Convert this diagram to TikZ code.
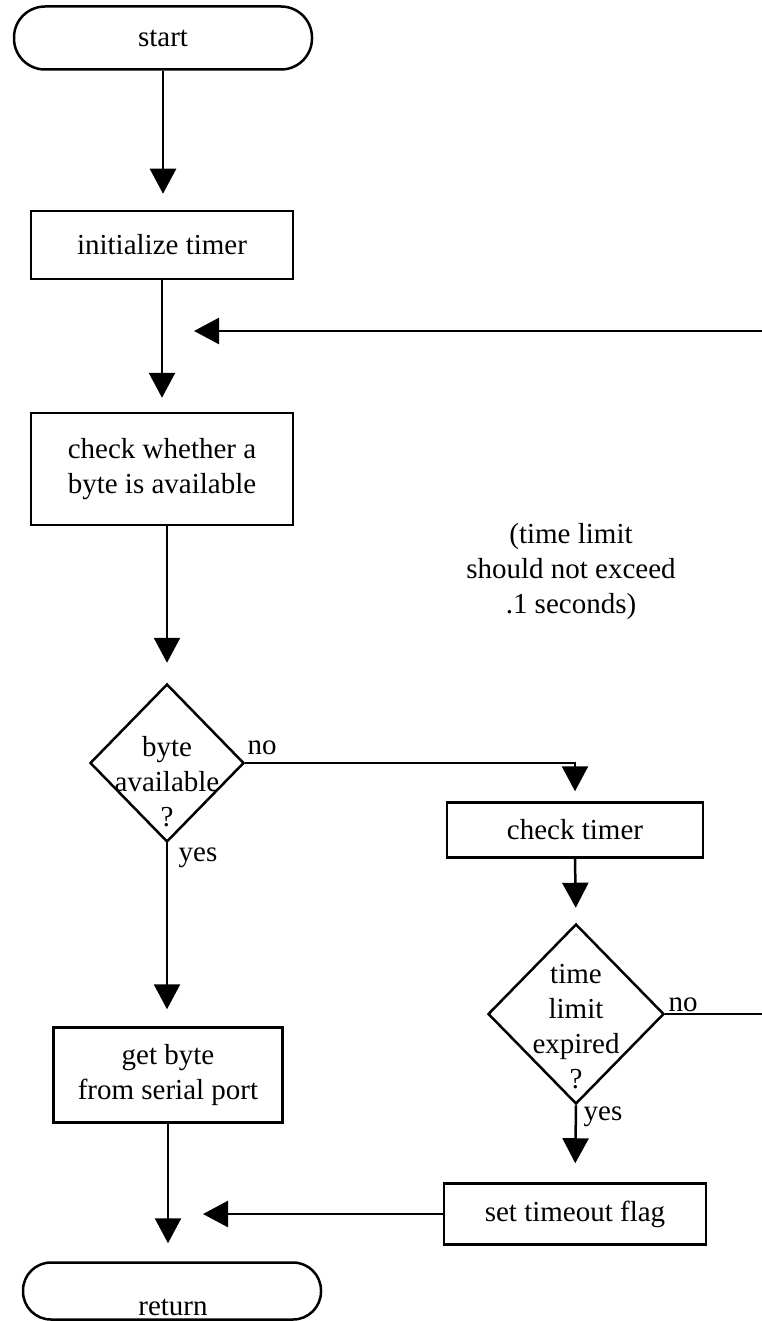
\documentclass[tikz,border=0pt]{standalone}
\usepackage{fontspec}
\setmainfont{Liberation Serif}
\usetikzlibrary{arrows.meta,shapes.geometric}
\begin{document}
\begin{tikzpicture}[x=1pt,y=-1pt,
  every node/.style={font=\fontsize{29}{35}\selectfont, inner sep=0pt},
  box/.style={draw, line width=2.5pt, rectangle, align=center},
  term/.style={draw, line width=2.5pt, rectangle},
  dia/.style={draw, line width=2.5pt, diamond},
  lbl/.style={align=center},
  arr/.style={line width=2.5pt, -{Triangle[width=26pt,length=25pt]}},
  ln/.style={line width=2.5pt}]
\useasboundingbox (0,0) rectangle (762,1321);
% nodes
\node[term, minimum width=298pt, minimum height=63pt, rounded corners=31pt] (start) at (163,38) {start};
\node[box, minimum width=262pt, minimum height=68pt] (init) at (162,245) {initialize timer};
\node[box, minimum width=262pt, minimum height=112pt] (chk) at (162,469) {check whether a\\byte is available};
\node[dia, minimum width=154pt, minimum height=158pt] (d1) at (167,763) {};
\node[lbl] (d1t) at (167,782) {byte\\available\\?};
\node[box, minimum width=229pt, minimum height=95pt] (gb) at (168,1075) {get byte\\from serial port};
\node[term, minimum width=298pt, minimum height=57pt, rounded corners=28pt] (ret) at (172,1291) {};
\node (rett) at (173,1307) {return};
\node[lbl] (note) at (571,572) {(time limit\\should not exceed\\.1 seconds)};
\node[box, minimum width=256pt, minimum height=55pt] (ct) at (575,830) {check timer};
\node[dia, minimum width=176pt, minimum height=180pt] (d2) at (576,1014) {};
\node[lbl] (d2t) at (576,1027) {time\\limit\\expired\\?};
\node[box, minimum width=262pt, minimum height=61pt] (stf) at (575,1214) {set timeout flag};
\node (no1) at (262,748) {no};
\node (yes1) at (198,858) {yes};
\node (no2) at (683,1005) {no};
\node (yes2) at (603,1117) {yes};
\coordinate (rin) at (762,331);
\coordinate (rout) at (762,1014);
% connectors
\draw[arr, shorten >=16pt] (start.south) -- (start.south |- init.north);
\draw[arr, shorten >=14pt] (init.south) -- (init.south |- chk.north);
\draw[arr] (rin) -- ([xshift=32pt]init.south |- rin);
\draw[arr, shorten >=20pt] (d1.north |- chk.south) -- (d1.north);
\draw[arr, shorten >=17pt] (d1.south) -- (d1.south |- gb.north);
\draw[arr, shorten >=18pt] (gb.south) -- (gb.south |- ret.north);
\draw[arr] (stf.west) -- ([xshift=35pt]gb.south |- stf.west);
\draw[arr, shorten >=10pt] (d1.east) -| (ct.north);
\draw[arr, shorten >=15pt] (ct.south) -- (d2.north);
\draw[arr, shorten >=19pt] (d2.south) -- (stf.north);
\draw[ln] (d2.east) -- (rout);
\end{tikzpicture}
\end{document}
